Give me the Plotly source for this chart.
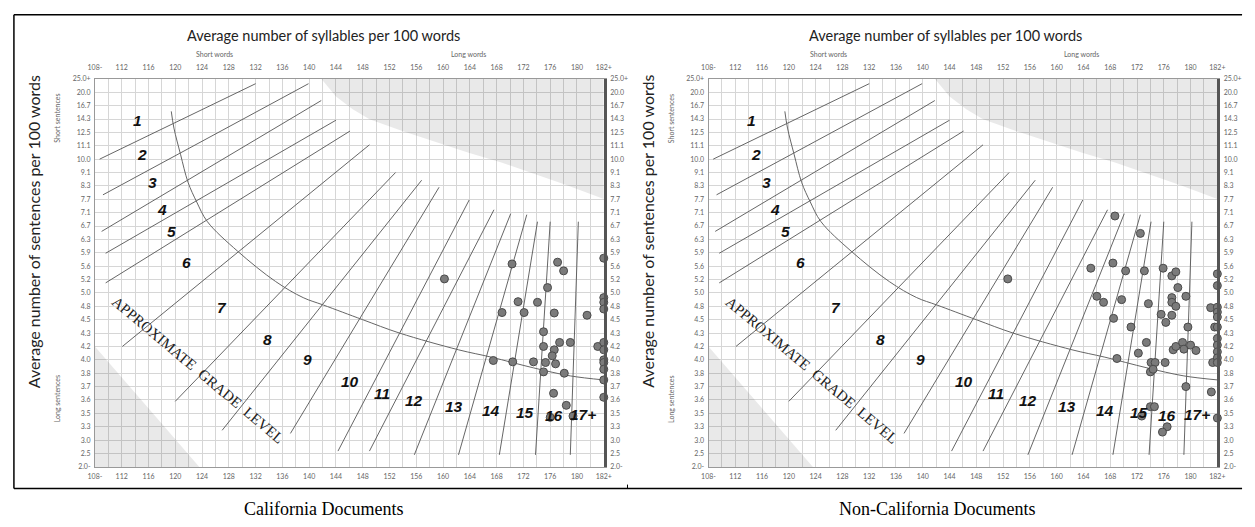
import numpy as np
import plotly.graph_objects as go

W, H = 1255, 527

# ---------------- axis categories ----------------
sentence_labels = ["25.0+", "20.0", "16.7", "14.3", "12.5", "11.1", "10.0", "9.1", "8.3", "7.7",
                   "7.1", "6.7", "6.3", "5.9", "5.6", "5.2", "5.0", "4.8", "4.5", "4.3",
                   "4.2", "4.0", "3.8", "3.7", "3.6", "3.5", "3.3", "3.0", "2.5", "2.0-"]
sentence_values = [25.0, 20.0, 16.7, 14.3, 12.5, 11.1, 10.0, 9.1, 8.3, 7.7,
                   7.1, 6.7, 6.3, 5.9, 5.6, 5.2, 5.0, 4.8, 4.5, 4.3,
                   4.2, 4.0, 3.8, 3.7, 3.6, 3.5, 3.3, 3.0, 2.5, 2.0]
syllable_ticks = [108, 112, 116, 120, 124, 128, 132, 136, 140, 144, 148, 152, 156, 160,
                  164, 168, 172, 176, 180, 184]
syllable_labels = ["108-", "112", "116", "120", "124", "128", "132", "136", "140", "144",
                   "148", "152", "156", "160", "164", "168", "172", "176", "180", "182+"]

# ---------------- Fry graph template ----------------
grade_names = ["1", "2", "3", "4", "5", "6", "7", "8", "9", "10", "11", "12", "13", "14", "15", "16", "17+"]
grade_line_start_syl = [108.7, 109.2, 109.0, 109.6, 109.6, 112.1, 120.0, 127.0, 137.2, 144.3,
                        149.0, 155.7, 162.3, 168.4, 173.8, 179.0]
grade_line_start_sent = [10.0, 7.9, 6.54, 5.89, 5.15, 4.2, 3.59, 3.22, 3.15, 2.59,
                         2.59, 2.45, 2.45, 2.45, 2.45, 2.45]
grade_line_end_syl = [132.0, 139.9, 141.8, 144.0, 146.1, 149.0, 152.9, 156.8, 159.4, 163.9,
                      167.6, 170.1, 172.5, 174.1, 176.0, 180.2]
grade_line_end_sent = [23.2, 23.2, 17.95, 14.14, 12.68, 11.2, 9.1, 8.64, 8.24, 7.67,
                       7.23, 7.07, 7.04, 6.83, 6.83, 6.83]

curve_syl = [119.4, 119.8, 120.8, 121.9, 123.2, 124.8, 129.3, 135.0, 139.1, 142.1,
             148.0, 153.5, 162.3, 167.2, 173.5, 179.0, 184.0]
curve_sent = [15.67, 13.08, 10.36, 8.52, 7.58, 6.83, 5.95, 5.17, 4.93, 4.82,
              4.5, 4.3, 4.15, 4.04, 3.88, 3.78, 3.75]

invalid_top_syl = [141.8, 144.0, 146.5, 149.0, 153.9, 158.8, 163.8, 168.7, 173.5, 178.5, 184.0, 184.0]
invalid_top_sent = [25.0, 18.94, 16.03, 14.26, 12.68, 11.51, 10.53, 9.77, 9.04, 8.34, 7.71, 25.0]
invalid_bottom_syl = [108.0, 108.0, 123.6]
invalid_bottom_sent = [4.2, 2.0, 2.0]

# grade label anchors (syllables, row of sentence scale)
grade_label_syl = [114.35, 115.1, 116.6, 118.0, 119.5, 121.7, 127.0, 133.7, 139.7, 146.1,
                   150.9, 155.7, 161.6, 167.2, 172.3, 176.5, 180.9]
grade_label_row = [25.91, 23.33, 21.27, 19.21, 17.59, 15.24, 11.92, 9.49, 8.02, 6.4,
                   5.45, 4.93, 4.5, 4.2, 4.05, 3.83, 3.9]

# ---------------- documents ----------------
ca_syllables = [160.2, 170.3, 177.1, 178.0, 175.6, 171.2, 174.1, 168.8, 172.1, 176.6,
                181.5, 175.0, 175.0, 177.4, 176.6, 179.0, 183.1, 176.3, 167.5, 170.4,
                173.5, 175.3, 176.8, 175.0, 178.1, 176.5, 178.4, 176.0, 179.4,
                184, 184, 184, 184, 184, 184, 184, 184, 184, 184, 184]
ca_sentences = [5.22, 5.65, 5.69, 5.46, 5.08, 4.87, 4.86, 4.66, 4.66, 4.65,
                4.6, 4.32, 4.2, 4.23, 4.15, 4.23, 4.2, 4.06, 3.99, 3.97,
                3.97, 3.96, 3.94, 3.82, 3.8, 3.65, 3.56, 3.44, 3.46,
                5.78, 4.93, 4.86, 4.74, 4.23, 4.15, 4.0, 3.96, 3.86, 3.75, 3.62]

nonca_syllables = [168.7, 172.5, 165.1, 168.4, 170.3, 173.1, 175.9, 177.2, 177.8, 166.0,
                   167.0, 169.7, 178.1, 177.2, 179.3, 177.2, 177.8, 173.7, 168.5, 175.6,
                   177.2, 176.3, 171.1, 179.6, 183.0, 183.6, 173.4, 177.4, 177.8, 178.8,
                   179.0, 180.0, 180.8, 172.2, 169.0, 174.1, 174.7, 176.2, 174.0, 174.4,
                   183.3, 179.3, 183.1, 174.0, 174.6, 172.7, 176.5, 175.8, 152.7,
                   184, 184, 184, 184, 184, 184, 184, 184, 184, 184, 184, 184]
nonca_sentences = [7.0, 6.48, 5.54, 5.67, 5.46, 5.46, 5.54, 5.31, 5.43, 4.95,
                   4.86, 4.9, 5.08, 4.93, 4.95, 4.86, 4.8, 4.84, 4.53, 4.62,
                   4.6, 4.46, 4.39, 4.39, 4.77, 4.39, 4.23, 4.15, 4.2, 4.23,
                   4.16, 4.21, 4.14, 4.1, 4.02, 3.96, 3.96, 3.96, 3.82, 3.86,
                   3.96, 3.7, 3.66, 3.55, 3.55, 3.46, 3.3, 3.18, 5.22,
                   5.37, 5.11, 4.78, 4.67, 4.56, 4.39, 4.26, 4.21, 4.12, 4.03, 3.96, 3.43]

captions = ["California Documents", "Non-California Documents"]

# ---------------- helpers ----------------
VALS_ASC = sentence_values[::-1]
ROWS = np.arange(len(VALS_ASC))


def row(v):
    return np.interp(np.asarray(v, dtype=float), VALS_ASC, ROWS)


def px_x(p):
    return p / W


def px_y(p):
    return 1 - p / H


GRID = "#d6d6d6"
TICKFONT = dict(family="Lato", size=7, color="#666")

fig = go.Figure()

panel_px = [(89, 604), (710, 1225)]
title_px = [320, 950]
PLOT_TOP, PLOT_BOT = 75, 469
ydom = [px_y(PLOT_BOT), px_y(PLOT_TOP)]

docs = [(ca_syllables, ca_sentences), (nonca_syllables, nonca_sentences)]

annotations = []
shapes = []


def paper_text(text, x, y, size, family="Lato", color="#222", angle=0):
    return dict(text=text, x=px_x(x), y=px_y(y), xref="paper", yref="paper",
                xanchor="center", yanchor="middle", showarrow=False, textangle=angle,
                font=dict(family=family, size=size, color=color))


for k, (x0, x1) in enumerate(panel_px):
    xa = "x" if k == 0 else "x2"
    ya = "y" if k == 0 else "y2"
    xt = "x3" if k == 0 else "x4"
    yr = "y3" if k == 0 else "y4"
    dom = [px_x(x0), px_x(x1)]

    # invalid areas
    fig.add_trace(go.Scatter(x=invalid_top_syl, y=row(invalid_top_sent), xaxis=xa, yaxis=ya,
                             mode="lines", fill="toself", fillcolor="rgba(0,0,0,0.085)",
                             line=dict(width=0), hoverinfo="skip", showlegend=False))
    fig.add_trace(go.Scatter(x=invalid_bottom_syl, y=row(invalid_bottom_sent), xaxis=xa, yaxis=ya,
                             mode="lines", fill="toself", fillcolor="rgba(0,0,0,0.085)",
                             line=dict(width=0), hoverinfo="skip", showlegend=False))
    # grade lines
    lx, ly = [], []
    for s0, r0, s1, r1 in zip(grade_line_start_syl, row(grade_line_start_sent),
                              grade_line_end_syl, row(grade_line_end_sent)):
        lx += [s0, s1, None]
        ly += [r0, r1, None]
    fig.add_trace(go.Scatter(x=lx, y=ly, xaxis=xa, yaxis=ya, mode="lines",
                             line=dict(color="#555", width=0.9), hoverinfo="skip", showlegend=False))
    # grade curve
    fig.add_trace(go.Scatter(x=curve_syl, y=row(curve_sent), xaxis=xa, yaxis=ya, mode="lines",
                             line=dict(color="#666", width=1, shape="spline", smoothing=1.0),
                             hoverinfo="skip", showlegend=False))
    # documents
    sx, sy = docs[k]
    fig.add_trace(go.Scatter(x=sx, y=row(sy), xaxis=xa, yaxis=ya, mode="markers",
                             marker=dict(size=8, color="#7b7b7b", line=dict(color="#4a4a4a", width=1)),
                             cliponaxis=False, showlegend=False, name=captions[k]))
    # dummy trace for top/right axes
    fig.add_trace(go.Scatter(x=[108], y=[0], xaxis=xt, yaxis=yr, mode="markers",
                             marker=dict(opacity=0), hoverinfo="skip", showlegend=False))

    common_x = dict(range=[108, 184], tickmode="array", tickvals=syllable_ticks,
                    ticktext=syllable_labels, tickfont=TICKFONT, zeroline=False, ticks="",
                    fixedrange=True)
    common_y = dict(range=[0, 29], tickmode="array", tickvals=list(range(30)),
                    ticktext=sentence_labels[::-1], tickfont=TICKFONT, zeroline=False, ticks="",
                    fixedrange=True)
    fig.update_layout(**{
        ("xaxis" if k == 0 else "xaxis2"): dict(
            domain=dom, anchor=ya, showgrid=True, gridcolor=GRID, gridwidth=1,
            minor=dict(tick0=108, dtick=2, showgrid=True, gridcolor=GRID, gridwidth=1),
            showline=True, linecolor="#999", linewidth=1, ticklabelstandoff=3, **common_x),
        ("xaxis3" if k == 0 else "xaxis4"): dict(
            overlaying=xa, anchor=yr, side="top", showgrid=False,
            showline=True, linecolor="#999", linewidth=1, ticklabelstandoff=5, **common_x),
        ("yaxis" if k == 0 else "yaxis2"): dict(
            domain=ydom, anchor=xa, showgrid=True, gridcolor=GRID, gridwidth=1,
            showline=True, linecolor="#999", linewidth=1, ticklabelstandoff=2, **common_y),
        ("yaxis3" if k == 0 else "yaxis4"): dict(
            overlaying=ya, anchor=xt, side="right", showgrid=False,
            showline=True, linecolor="#555", linewidth=3, ticklabelstandoff=2, **common_y),
    })

    off = x0 - 89
    annotations += [
        paper_text("Average number of syllables per 100 words", title_px[k], 31, 14.5),
        paper_text("Short words", 210 + off, 50, 7, color="#666"),
        paper_text("Long words", 467 + off, 50, 7, color="#666"),
        paper_text("Average number of sentences per 100 words", 27 + off, 230, 16, angle=-90),
        paper_text("Short sentences", 51 + off, 115, 7, color="#666", angle=-90),
        paper_text("Long sentences", 51 + off, 400, 7, color="#666", angle=-90),
        paper_text(captions[k], 320 + off, 512, 18, family="Liberation Serif", color="#000"),
        dict(text="APPROXIMATE&nbsp;&nbsp;GRADE&nbsp;&nbsp;LEVEL", x=123.35, y=7.21, xref=xa, yref=ya,
             xanchor="center", yanchor="middle", showarrow=False, textangle=40,
             font=dict(family="Liberation Serif", size=15, color="#222")),
    ]
    for name, gx, gy in zip(grade_names, grade_label_syl, grade_label_row):
        annotations.append(dict(text=name, x=gx, y=gy, xref=xa, yref=ya, showarrow=False,
                                xanchor="center", yanchor="middle",
                                font=dict(family="Liberation Sans", size=15.5, color="#111",
                                          weight="bold", style="italic")))

# outer frame lines
shapes += [
    dict(type="line", xref="paper", yref="paper", x0=px_x(7), x1=px_x(1250), y0=px_y(10), y1=px_y(10),
         line=dict(color="#000", width=1.5)),
    dict(type="line", xref="paper", yref="paper", x0=px_x(7), x1=px_x(1250), y0=px_y(491), y1=px_y(491),
         line=dict(color="#000", width=1.5)),
    dict(type="line", xref="paper", yref="paper", x0=px_x(7), x1=px_x(7), y0=px_y(10), y1=px_y(491),
         line=dict(color="#000", width=1.5)),
    dict(type="line", xref="paper", yref="paper", x0=px_x(628), x1=px_x(628), y0=px_y(487), y1=px_y(491),
         line=dict(color="#000", width=1)),
]

fig.update_layout(width=W, height=H, margin=dict(l=0, r=0, t=0, b=0),
                  paper_bgcolor="white", plot_bgcolor="white", showlegend=False,
                  annotations=annotations, shapes=shapes)

fig.write_html("out.html", config={"displayModeBar": False},
               post_script="document.body.style.margin='0';document.body.style.overflow='hidden';")
